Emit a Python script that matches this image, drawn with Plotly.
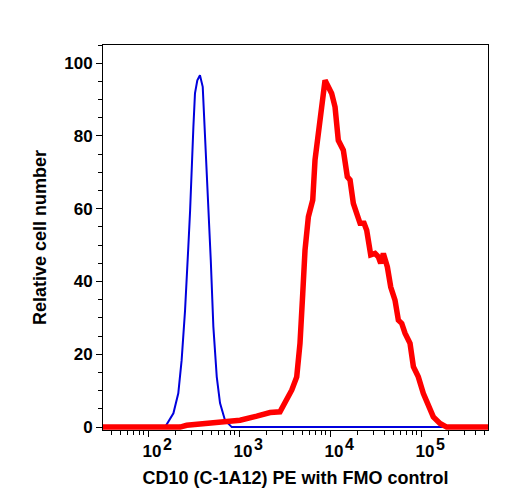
import math
import plotly.graph_objects as go

# FMO control (blue)
fmo_x = [32, 154, 190, 215, 234, 255, 277, 290, 315, 328, 348, 372, 399, 423,
         460, 489, 522, 569, 618, 701, 832, 550000]
fmo_y = [0, 0, 3.8, 9.3, 18.4, 32, 49.5, 59.6, 82.5, 91.7, 95.3, 96.7, 93.5, 80.7,
         62.4, 45.9, 27.6, 13.8, 6.6, 1.9, 0, 0]

# CD10 (C-1A12) PE stained (red)
cd10_x = [32, 225, 266, 667, 1026, 1567, 2193, 2818, 3199, 3802, 4305, 4677, 5012,
          5309, 5781, 6457, 6839, 7430, 8110, 8810, 9572, 10423, 11350, 12331,
          13996, 15488, 16596, 18030, 19634, 21380, 23660, 25290, 27990, 31260,
          33960, 36060, 38550, 42660, 46450, 51760, 56360, 61380, 66680, 75680,
          82410, 93330, 105900, 120200, 136500, 161800, 191400, 550000]
cd10_y = [0, 0, 0.5, 1.2, 1.9, 3.0, 4.0, 4.2, 6.5, 10.2, 13.8, 23, 36.7,
          48.6, 57.8, 62.4, 73.4, 80.7, 89.8, 95.3, 93.5, 91.7, 88, 78.8,
          76.1, 68.8, 67.9, 61.5, 58.7, 56, 56, 54.1, 47.3, 47.7,
          46.8, 45, 47.7, 44, 38.5, 34.9, 29.4, 28.5, 25.8, 23,
          16.6, 13.8, 9.3, 5.6, 2.8, 1, 0, 0]

x_tick_vals = [100, 1000, 10000, 100000]
x_tick_base = ["10", "10", "10", "10"]
x_tick_exps = ["2", "3", "4", "5"]

font_family = "Liberation Sans, Arial, Helvetica, sans-serif"

fig = go.Figure()
fig.add_trace(go.Scatter(x=fmo_x, y=fmo_y, mode="lines",
                         line=dict(color="#0000dd", width=2), showlegend=False))
fig.add_trace(go.Scatter(x=cd10_x, y=cd10_y, mode="lines",
                         line=dict(color="#ff0000", width=5.5), showlegend=False))

# exponents of the decade labels, drawn full size and raised
# (annotation x on a log axis is given in log10 units)
for v, e in zip(x_tick_vals, x_tick_exps):
    fig.add_annotation(x=math.log10(v), y=0, xref="x", yref="paper", text=e,
                       showarrow=False, xanchor="center", yanchor="middle",
                       xshift=19, yshift=-14,
                       font=dict(size=16, weight="bold", color="black"))

fig.update_layout(
    width=508, height=500,
    margin=dict(l=103, r=20, t=45, b=70),
    paper_bgcolor="white", plot_bgcolor="white",
    font=dict(family=font_family, color="black", size=16, weight="bold"),
    xaxis=dict(
        type="log", range=[1.505, 5.736],
        tickmode="array", tickvals=x_tick_vals, ticktext=x_tick_base,
        ticklabelshift=4,
        ticks="outside", ticklen=6, tickwidth=1, tickcolor="black",
        minor=dict(ticks="outside", ticklen=4, tickcolor="black", tickmode="linear",
                   tick0=0, dtick="D1", showgrid=False),
        showline=True, linecolor="black", linewidth=1, mirror=True,
        showgrid=False, zeroline=False,
        tickfont=dict(size=17, weight="bold"),
        title=dict(text="CD10 (C-1A12) PE with FMO control",
                   font=dict(size=18, weight="bold"), standoff=10),
    ),
    yaxis=dict(
        range=[-0.8, 105],
        tickmode="linear", tick0=0, dtick=20,
        ticks="outside", ticklen=6, tickwidth=1, tickcolor="black",
        minor=dict(ticks="outside", ticklen=4, tickcolor="black", dtick=5, showgrid=False),
        showline=True, linecolor="black", linewidth=1, mirror=True,
        showgrid=False, zeroline=False,
        tickfont=dict(size=17, weight="bold"),
        title=dict(text="Relative cell number",
                   font=dict(size=18, weight="bold"), standoff=12),
    ),
)

fig.write_html("out.html")
